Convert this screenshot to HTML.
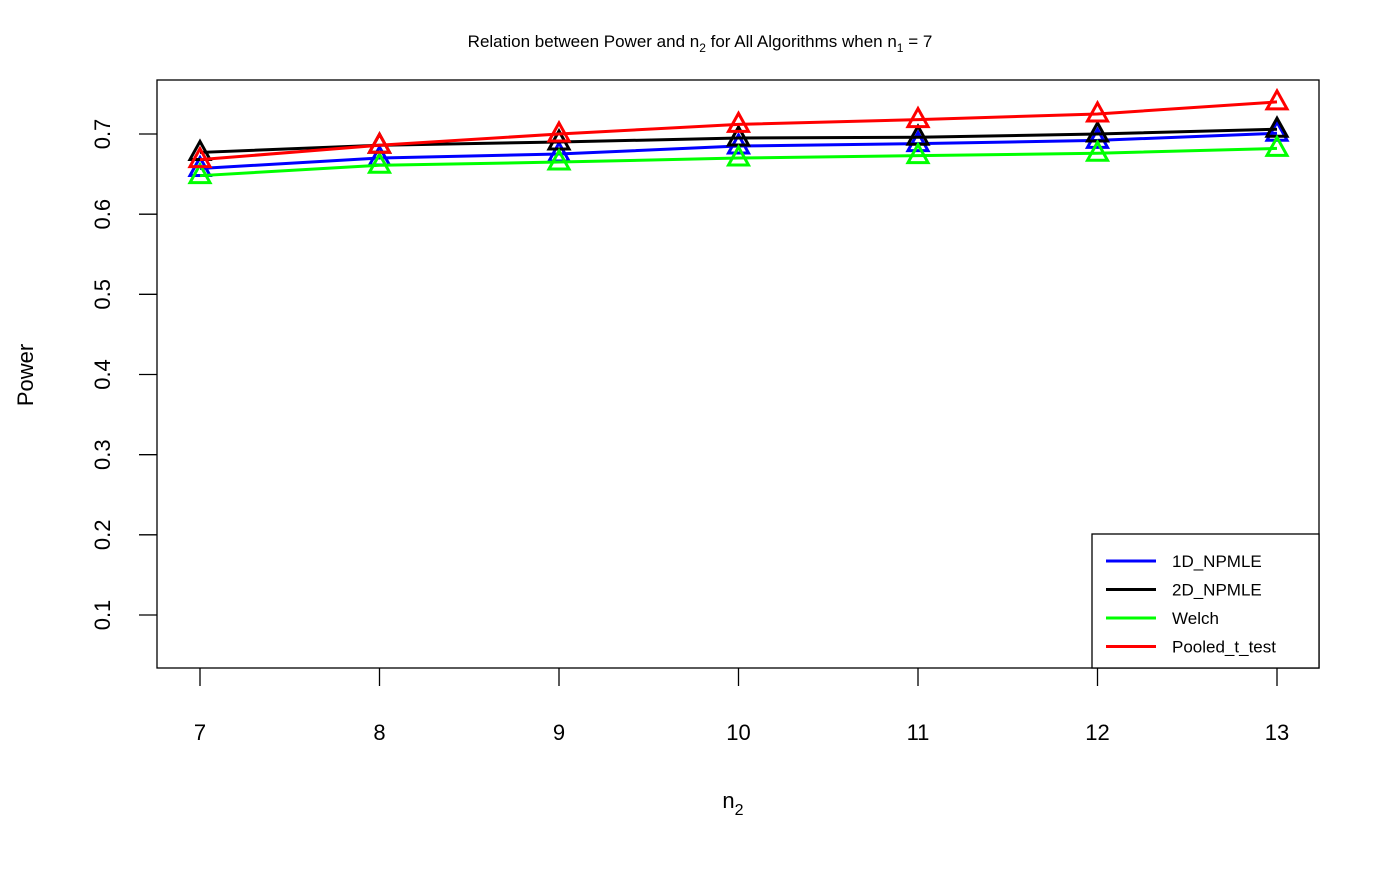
<!DOCTYPE html>
<html><head><meta charset="utf-8"><style>
body{margin:0;background:#fff}
svg{font-family:"Liberation Sans",Arial,sans-serif}
</style></head><body>
<svg id="chart" width="1400" height="865"></svg>
<script>
const categories=[7,8,9,10,11,12,13];
const yTicks=[0.1,0.2,0.3,0.4,0.5,0.6,0.7];
const seriesNames=["1D_NPMLE","2D_NPMLE","Welch","Pooled_t_test"];
const seriesColors=["#0000ff","#000000","#00ff00","#ff0000"];
const npml1d=[0.657,0.670,0.675,0.685,0.688,0.692,0.701];
const npml2d=[0.677,0.686,0.690,0.695,0.696,0.700,0.706];
const welch=[0.648,0.661,0.665,0.670,0.673,0.676,0.682];
const pooled=[0.668,0.686,0.700,0.712,0.718,0.725,0.740];
const allSeries=[npml1d,npml2d,welch,pooled];
const NS="http://www.w3.org/2000/svg";
const svg=document.getElementById('chart');
const X=v=>200+(v-7)*(1277-200)/6;
const Y=v=>615-(v-0.1)*(615-134)/0.6;
function el(t,a,txt){const e=document.createElementNS(NS,t);for(const k in a)e.setAttribute(k,a[k]);if(txt!==undefined)e.textContent=txt;svg.appendChild(e);return e;}
let e;
e=el('text',{x:700,y:47,'text-anchor':'middle','font-size':17});


e.innerHTML='Relation between Power and n<tspan font-size="12" dy="5">2</tspan><tspan dy="-5"> for All Algorithms when n</tspan><tspan font-size="12" dy="5">1</tspan><tspan dy="-5"> = 7</tspan>';
e=el('rect',{x:157,y:80,width:1162,height:588,fill:'none',stroke:'#000','stroke-width':1.3});


el('line',{x1:X(7),x2:X(13),y1:668,y2:668,stroke:'#000'});
categories.forEach(c=>{
  el('line',{x1:X(c),x2:X(c),y1:668,y2:686,stroke:'#000','stroke-width':1.3});
  e=el('text',{x:X(c),y:740,'text-anchor':'middle','font-size':22},c);
  
  
});
yTicks.forEach(t=>{
  el('line',{x1:139,x2:157,y1:Y(t),y2:Y(t),stroke:'#000','stroke-width':1.3});
  e=el('text',{x:0,y:0,'text-anchor':'middle','font-size':22,transform:`translate(110,${Y(t)}) rotate(-90)`},t.toFixed(1));
  
  
});
e=el('text',{x:0,y:0,'text-anchor':'middle','font-size':22,transform:'translate(33,375) rotate(-90)'},'Power');


e=el('text',{x:733,y:808,'text-anchor':'middle','font-size':22});


e.innerHTML='n<tspan font-size="16" dy="7">2</tspan>';
allSeries.forEach((s,i)=>{
  const pts=s.map((v,j)=>X(categories[j])+','+Y(v)).join(' ');
  e=el('polyline',{points:pts,fill:'none',stroke:seriesColors[i],'stroke-width':3});
  
  
  s.forEach((v,j)=>{
    const cx=X(categories[j]),cy=Y(v);
    e=el('polygon',{points:`${cx},${cy-11} ${cx-10},${cy+7} ${cx+10},${cy+7}`,fill:'none',stroke:seriesColors[i],'stroke-width':3});
    
    
  });
});
e=el('rect',{x:1092,y:534,width:227,height:134,fill:'#fff',stroke:'#000','stroke-width':1.3});


seriesNames.forEach((n,i)=>{
  const y=561+i*28.5;
  el('line',{x1:1106,x2:1156,y1:y,y2:y,stroke:seriesColors[i],'stroke-width':3});
  e=el('text',{x:1172,y:y+6,'font-size':17},n);
  
  
});
</script>
</body></html>
